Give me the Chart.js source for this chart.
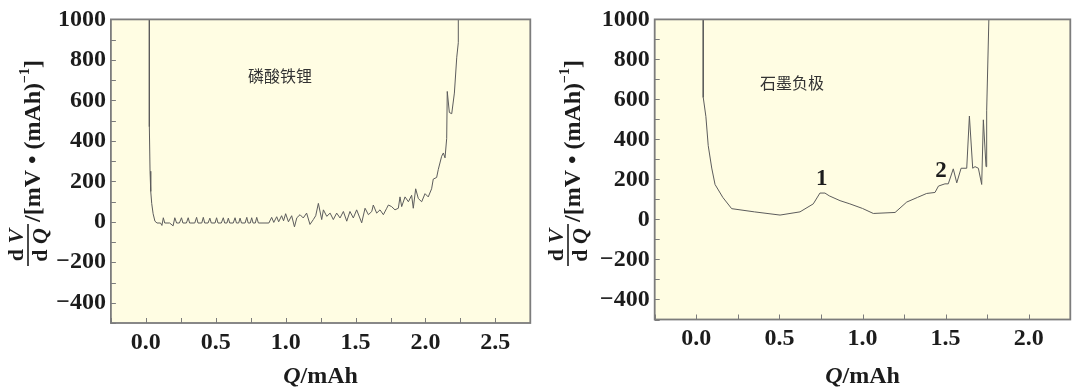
<!DOCTYPE html>
<html lang="zh">
  <head>
    <meta charset="UTF-8" />
    <title>dV/dQ curves</title>
    <style>
      html, body { margin: 0; padding: 0; background: #fff; }
      .wrap { position: relative; width: 1080px; height: 392px; }
      .panel { position: absolute; top: 0; width: 540px; height: 392px; }
    </style>
  </head>
  <body>
    <div class="wrap">
      <div class="panel" style="left: 0"><canvas id="lfpChart" width="540" height="392"></canvas></div>
      <div class="panel" style="left: 540px"><canvas id="graphiteChart" width="540" height="392"></canvas></div>
    </div>

    <script src="https://cdn.jsdelivr.net/npm/chart.js"></script>
    <script>
      // left panel: LiFePO4 cathode, Q (mAh) vs dV/dQ
      const lfpQ = [
        0.025, 0.025, 0.03, 0.035, 0.042, 0.052, 0.065, 0.08, 0.105, 0.115, 0.125, 0.135,
        0.17, 0.195, 0.207, 0.22, 0.24, 0.255, 0.265, 0.29, 0.303, 0.313, 0.35, 0.363,
        0.373, 0.4, 0.411, 0.421, 0.445, 0.458, 0.468, 0.495, 0.506, 0.516, 0.54, 0.554,
        0.564, 0.58, 0.59, 0.6, 0.625, 0.638, 0.648, 0.664, 0.674, 0.684, 0.71, 0.722,
        0.732, 0.747, 0.757, 0.767, 0.783, 0.793, 0.805, 0.88, 0.9, 0.915, 0.936, 0.95,
        0.971, 0.985, 1.0, 1.02, 1.043, 1.063, 1.08, 1.103, 1.126, 1.15, 1.174, 1.198,
        1.215, 1.234, 1.258, 1.27, 1.294, 1.318, 1.341, 1.365, 1.389, 1.413, 1.437, 1.46,
        1.484, 1.508, 1.544, 1.568, 1.592, 1.616, 1.627, 1.651, 1.675, 1.699, 1.723, 1.735,
        1.758, 1.782, 1.806, 1.818, 1.83, 1.854, 1.878, 1.901, 1.913, 1.93, 1.949, 1.973,
        1.997, 2.02, 2.044, 2.056, 2.08, 2.092, 2.116, 2.128, 2.14, 2.152, 2.156, 2.171,
        2.188, 2.207, 2.224, 2.235, 2.235
      ];
      const lfpDV = [
        1100, 470, 250, 150, 90, 40, 3, -6, -6, -18, 20, -6,
        -6, -20, 20, -6, -6, 20, -6, -6, 20, -6, -6, 22,
        -6, -6, 22, -6, -6, 18, -6, -6, 20, -6, -6, 20,
        -6, -6, 18, -6, -6, 20, -6, -6, 18, -6, -6, 22,
        -6, -6, 20, -6, -6, 22, -6, -6, 22, -3, 25, 0,
        30, 5, 40, 0, 30, -25, 20, 35, 19, 43, -13, 11,
        30, 91, 11, 59, 27, 43, 11, 43, 19, 51, 3, 51,
        19, 59, -5, 67, 35, 51, 83, 43, 59, 35, 67, 83,
        75, 59, 67, 123, 75, 123, 99, 131, 67, 163, 115, 99,
        139, 123, 163, 211, 219, 259, 324, 340, 316, 412, 644, 540,
        534, 636, 813, 885, 1100
      ];

      // right panel: graphite anode
      const graphiteQ = [
        0.042, 0.042, 0.058, 0.072, 0.093, 0.113, 0.16, 0.213, 0.35, 0.504, 0.624, 0.704,
        0.744, 0.774, 0.8, 0.865, 0.924, 1.0, 1.065, 1.196, 1.266, 1.33, 1.386, 1.436,
        1.457, 1.496, 1.516, 1.546, 1.567, 1.593, 1.627, 1.643, 1.663, 1.677, 1.697, 1.717,
        1.727, 1.743, 1.747, 1.763
      ];
      const graphiteDV = [
        1100, 610, 514, 369, 257, 175, 110, 54, 38, 22, 38, 78,
        132, 132, 118, 94, 78, 55, 30, 35, 87, 110, 130, 135,
        167, 178, 178, 253, 183, 256, 256, 517, 256, 264, 256, 175,
        498, 264, 546, 1100
      ];

      const lfpNotes = [{ text: "磷酸铁锂", q: 0.96, v: 721, cjk: true }];
      const graphiteNotes = [
        { text: "石墨负极", q: 0.576, v: 683, cjk: true },
        { text: "1", q: 0.755, v: 204 },
        { text: "2", q: 1.472, v: 243 },
      ];

      const SERIF = '"Liberation Serif", "Times New Roman", serif';
      const INK = "#1c1c1c";

      function signed(v, digits) {
        const s = Math.abs(v).toFixed(digits);
        return v < 0 ? "\u2212" + s : s;
      }

      // draw a list of [text, font] pieces one after another, centred on x
      function drawRuns(ctx, runs, x, y) {
        let total = 0;
        runs.forEach((r) => {
          ctx.font = r[1];
          total += ctx.measureText(r[0]).width;
        });
        let cur = x - total / 2;
        runs.forEach((r) => {
          ctx.font = r[1];
          ctx.fillText(r[0], cur, y);
          cur += ctx.measureText(r[0]).width;
        });
      }

      function drawYTitle(ctx, barX, midY) {
        const b = "bold 22px " + SERIF;
        const bi = "italic bold 22px " + SERIF;
        const big = "bold 24px " + SERIF;
        ctx.save();
        ctx.translate(barX, midY);
        ctx.rotate(-Math.PI / 2);
        ctx.fillStyle = INK;
        ctx.textAlign = "left";
        ctx.textBaseline = "alphabetic";
        drawRuns(ctx, [["d ", b], ["V", bi]], 0, -5);
        drawRuns(ctx, [["d ", b], ["Q", bi]], 0, 19);
        ctx.strokeStyle = INK;
        ctx.lineWidth = 1.6;
        ctx.beginPath();
        ctx.moveTo(-21, 0);
        ctx.lineTo(21, 0);
        ctx.stroke();
        // rest of the unit, running upward from the fraction
        let u = 23;
        const parts = [
          ["/[mV \u2022 (mAh)", big, 12],
          ["\u22121", "bold 14px " + SERIF, 1],
          ["]", big, 12],
        ];
        parts.forEach((p) => {
          ctx.font = p[1];
          ctx.fillText(p[0], u, p[2]);
          u += ctx.measureText(p[0]).width;
        });
        ctx.restore();
      }

      function makeFrame(notes) {
        return {
          id: "frame",
          beforeDraw(chart) {
            const a = chart.chartArea;
            const ctx = chart.ctx;
            ctx.save();
            ctx.fillStyle = "#fffde3";
            ctx.fillRect(a.left, a.top, a.right - a.left, a.bottom - a.top);
            ctx.restore();
          },
          afterDraw(chart) {
            const a = chart.chartArea;
            const ctx = chart.ctx;
            const xs = chart.scales.x;
            const ys = chart.scales.y;
            ctx.save();
            // inward tick marks
            ctx.strokeStyle = "#7c7c7c";
            ctx.lineWidth = 1;
            ctx.beginPath();
            ys.ticks.forEach((t) => {
              const py = Math.round(ys.getPixelForValue(t.value)) + 0.5;
              ctx.moveTo(a.left, py);
              ctx.lineTo(a.left + 5, py);
            });
            xs.ticks.forEach((t) => {
              const px = Math.round(xs.getPixelForValue(t.value)) + 0.5;
              ctx.moveTo(px, a.bottom);
              ctx.lineTo(px, a.bottom - 5);
            });
            ctx.stroke();
            ctx.lineWidth = 1.8;
            ctx.strokeRect(a.left, a.top, a.right - a.left, a.bottom - a.top);

            // in-plot labels
            ctx.textAlign = "center";
            ctx.textBaseline = "middle";
            notes.forEach((n) => {
              ctx.fillStyle = n.cjk ? "#333" : INK;
              ctx.font = n.cjk ? '16px "Noto Sans CJK SC", sans-serif' : "bold 23px " + SERIF;
              ctx.fillText(n.text, xs.getPixelForValue(n.q), ys.getPixelForValue(n.v));
            });

            // x axis title
            ctx.fillStyle = INK;
            ctx.textAlign = "left";
            drawRuns(
              ctx,
              [["Q", "italic bold 24px " + SERIF], ["/mAh", "bold 24px " + SERIF]],
              (a.left + a.right) / 2,
              377
            );
            drawYTitle(ctx, 28, 245);
            ctx.restore();
          },
        };
      }

      function makeChart(id, qs, vs, xMax, axisW, topPad, bottom, notes) {
        const pts = qs.map((q, i) => ({ x: q, y: vs[i] }));
        const tickFont = { family: SERIF, size: 24, weight: "bold" };
        return new Chart(document.getElementById(id), {
          type: "scatter",
          data: {
            datasets: [
              {
                data: pts,
                showLine: true,
                fill: false,
                borderColor: "#5c5c5c",
                borderWidth: 1,
                pointRadius: 0,
                tension: 0,
              },
            ],
          },
          options: {
            responsive: false,
            animation: false,
            devicePixelRatio: 1,
            layout: { padding: { top: topPad, right: 9.7, left: 0, bottom: 0 } },
            plugins: { legend: { display: false }, tooltip: { enabled: false } },
            scales: {
              x: {
                type: "linear",
                min: -0.25,
                max: xMax,
                afterFit: (s) => { s.height = 392 - bottom; },
                grid: { display: false, drawTicks: false },
                border: { display: false },
                ticks: {
                  stepSize: 0.25,
                  autoSkip: false,
                  maxRotation: 0,
                  padding: 5,
                  color: INK,
                  font: tickFont,
                  callback: (v) => (Math.abs(v * 2 - Math.round(v * 2)) < 1e-6 ? signed(v, 1) : ""),
                },
              },
              y: {
                type: "linear",
                min: -500,
                max: 1000,
                afterFit: (s) => { s.width = axisW; },
                grid: { display: false, drawTicks: false },
                border: { display: false },
                ticks: {
                  stepSize: 100,
                  autoSkip: false,
                  padding: 5,
                  color: INK,
                  font: tickFont,
                  callback: (v) => (v % 200 === 0 && v > -500 ? signed(v, 0) : ""),
                },
              },
            },
          },
          plugins: [makeFrame(notes)],
        });
      }

      makeChart("lfpChart", lfpQ, lfpDV, 2.75, 110.9, 11, 323, lfpNotes);
      makeChart("graphiteChart", graphiteQ, graphiteDV, 2.25, 114.7, 9.5, 319.5, graphiteNotes);
    </script>
  </body>
</html>
